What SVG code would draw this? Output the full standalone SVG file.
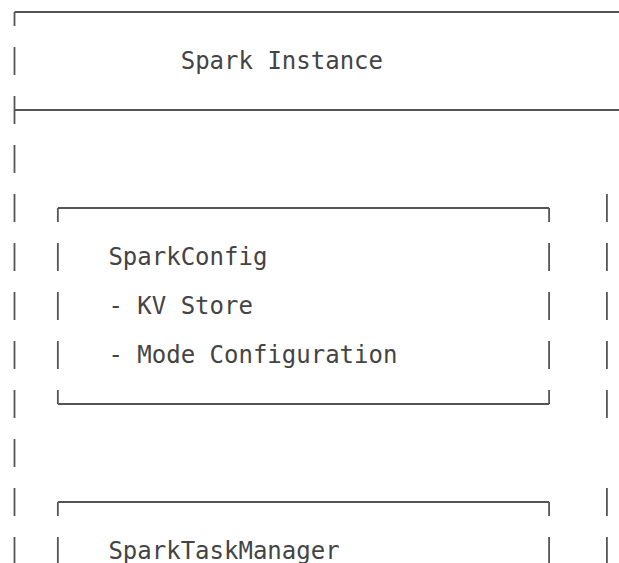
<svg xmlns="http://www.w3.org/2000/svg" width="619" height="563" viewBox="0 0 619 563">
  <style>
    .bg { fill: #ffffff; }
    .ln { fill: none; stroke: #555555; stroke-width: 1.8; }
    .seg { fill: none; stroke: #555555; stroke-width: 1.8; stroke-dasharray: 28 21; }
    .seg0 { fill: none; stroke: #555555; stroke-width: 1.8; stroke-dasharray: 28 21; stroke-dashoffset: 14; }
    .t { font-family: "DejaVu Sans Mono", "Liberation Mono", monospace; font-size: 24px; fill: #444444; white-space: pre; }
  </style>
  <rect class="bg" x="0" y="0" width="619" height="563"/>

  <g id="spark-instance">
    <path class="ln" d="M14.5 12 H622 M14.5 110 H622"/>
    <path class="seg0" d="M14.5 12 V570"/>
    <path class="seg" d="M606.9 194 V418 M606.9 488 V570"/>
    <text class="t" x="180.7" y="69.3">Spark Instance</text>
  </g>

  <g id="spark-config">
    <path class="ln" d="M57.85 208 H549.1 M57.85 404 H549.1"/>
    <path class="seg0" d="M57.85 208 V404 M549.1 208 V404"/>
    <text class="t" x="108.4" y="265.3">SparkConfig</text>
    <text class="t" x="108.4" y="314.3">- KV Store</text>
    <text class="t" x="108.4" y="363.3">- Mode Configuration</text>
  </g>

  <g id="spark-task-manager">
    <path class="ln" d="M57.85 502 H549.1"/>
    <path class="seg0" d="M57.85 502 V570 M549.1 502 V570"/>
    <text class="t" x="108.4" y="559.3">SparkTaskManager</text>
  </g>

  <g id="connectors"></g>
</svg>
